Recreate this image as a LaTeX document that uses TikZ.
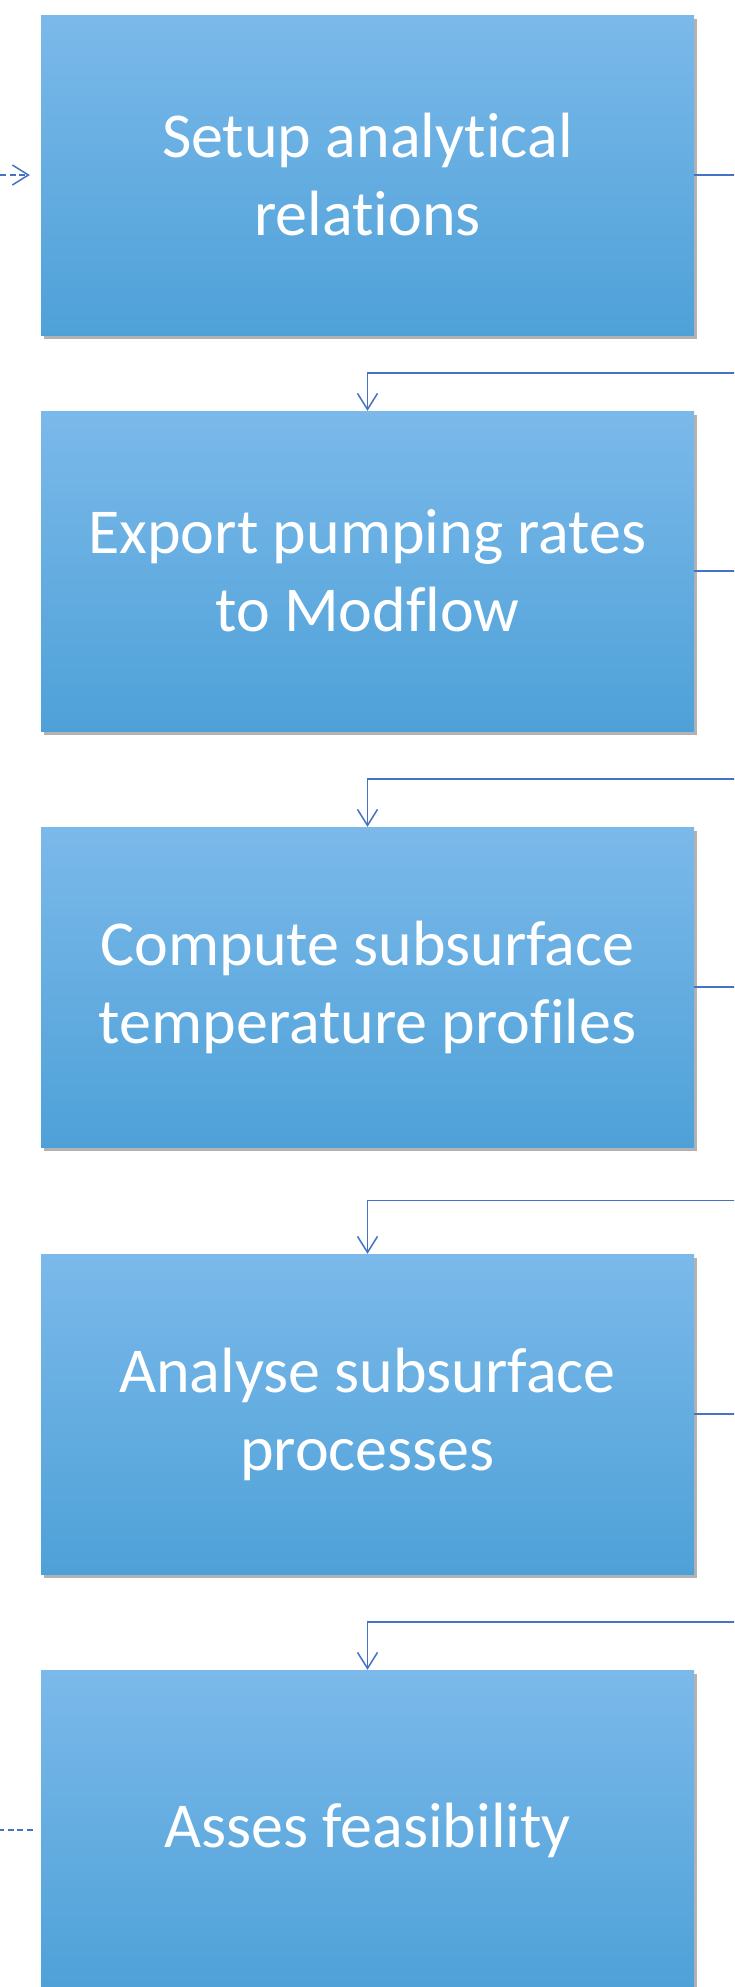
\documentclass[tikz,border=0pt]{standalone}
\usepackage{fontspec}
\setmainfont{Carlito}[Ligatures=NoCommon]
\usetikzlibrary{arrows.meta,shadows,calc}
\definecolor{boxtop}{RGB}{123,185,234}
\definecolor{boxbottom}{RGB}{78,161,216}
\definecolor{linkblue}{RGB}{68,114,196}

\begin{document}
\begin{tikzpicture}[x=1pt,y=-1pt,
    procbox/.style={rectangle,minimum width=653pt,minimum height=320pt,inner sep=0pt,
        top color=boxtop,bottom color=boxbottom,text=white,align=center,
        font=\fontsize{64}{78}\selectfont,
        drop shadow={shadow xshift=3pt,shadow yshift=-4pt,fill=black,opacity=0.3}},
    link/.style={draw=linkblue,line width=1.5pt,-{Straight Barb[length=16pt,width=20pt]}},
    dashlink/.style={link,dash pattern=on 6pt off 3.5pt}]
  \clip (0,0) rectangle (734,1987);
  \node[procbox] (setup)   at (367.5,175)  {Setup analytical\\relations};
  \node[procbox] (export)  at (367.5,571)  {Export pumping rates\\to Modflow};
  \node[procbox] (compute) at (367.5,987)  {Compute subsurface\\temperature profiles};
  \node[procbox] (analyse) at (367.5,1414) {Analyse subsurface\\processes};
  \node[procbox] (assess)  at (367.5,1830) {Asses feasibility};
  \coordinate (in)  at (0,175);
  \coordinate (out) at (0,1830);
  \draw[dashlink] (in) -- ([xshift=-11pt]setup.west);
  \draw[dashlink,-] ([xshift=-8pt]assess.west) -- (out);
  % elbow links, bent outside the right edge
  \draw[link] (setup.east) -- ++(80,0) |- ($(setup.south)!0.5!(export.north)$) -| (export.north);
  \draw[link] (export.east) -- ++(80,0) |- ($(export.south)!0.5!(compute.north)$) -| (compute.north);
  \draw[link] (compute.east) -- ++(80,0) |- ($(compute.south)!0.5!(analyse.north)$) -| (analyse.north);
  \draw[link] (analyse.east) -- ++(80,0) |- ($(analyse.south)!0.5!(assess.north)$) -| (assess.north);
\end{tikzpicture}
\end{document}
